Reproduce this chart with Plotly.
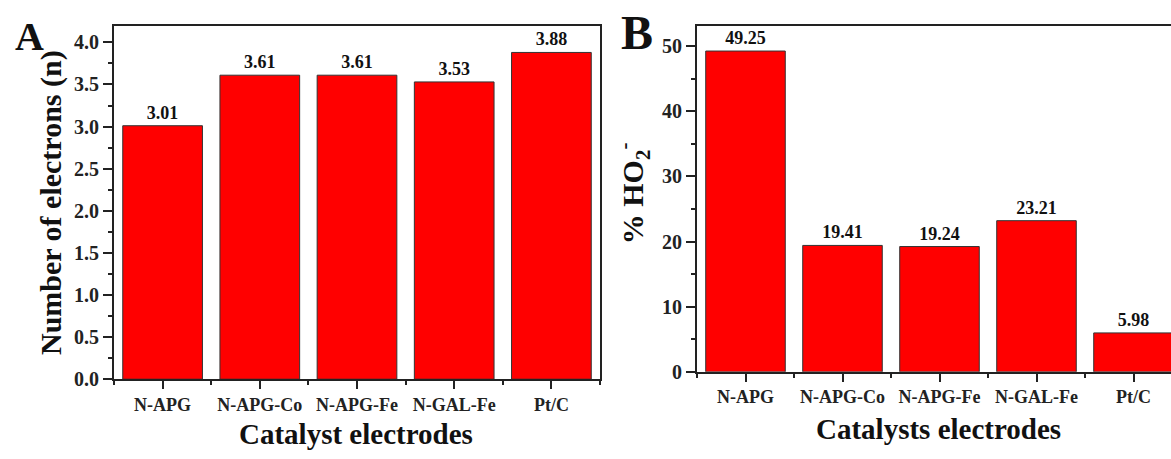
import plotly.graph_objects as go

categories = ["N-APG", "N-APG-Co", "N-APG-Fe", "N-GAL-Fe", "Pt/C"]
electrons = [3.01, 3.61, 3.61, 3.53, 3.88]
ho2_percent = [49.25, 19.41, 19.24, 23.21, 5.98]
yticks_a = [0.0, 0.5, 1.0, 1.5, 2.0, 2.5, 3.0, 3.5, 4.0]
yticks_b = [0, 10, 20, 30, 40, 50]

W, H = 1171, 459
FONT = "Liberation Serif, Times New Roman, serif"
xpos = list(range(len(categories)))

fig = go.Figure()
fig.add_trace(go.Bar(
    x=xpos, y=electrons, xaxis="x", yaxis="y",
    marker=dict(color="#ff0000", line=dict(color="#333333", width=1)),
    text=[f"{v:.2f}" for v in electrons], textposition="outside",
    textfont=dict(family=FONT, size=18, color="#111", weight="bold"),
    cliponaxis=False, showlegend=False,
))
fig.add_trace(go.Bar(
    x=xpos, y=ho2_percent, xaxis="x2", yaxis="y2",
    marker=dict(color="#ff0000", line=dict(color="#333333", width=1)),
    text=[f"{v:.2f}" for v in ho2_percent], textposition="outside",
    textfont=dict(family=FONT, size=18, color="#111", weight="bold"),
    cliponaxis=False, showlegend=False,
))

def px_x(p):
    return p / W

def px_y(p):
    return 1 - p / H

common_x = dict(
    tickmode="array", tickvals=xpos, ticktext=categories,
    ticks="outside", ticklen=8, tickwidth=2, tickcolor="#222",
    showline=True, linewidth=2, linecolor="#222", mirror=True,
    showgrid=False, zeroline=False,
    tickfont=dict(family=FONT, size=18, color="#222", weight="bold"),
    minor=dict(tick0=0.5, dtick=1, ticks="outside", ticklen=4, tickwidth=2, tickcolor="#222"),
)
common_y = dict(
    ticks="outside", ticklen=9, tickwidth=2, tickcolor="#222",
    showline=True, linewidth=2, linecolor="#222",
    showgrid=False, zeroline=False,
    tickfont=dict(family=FONT, size=20, color="#222", weight="bold"),
)

def ann(text, x, y, size, angle=0):
    return dict(text=text, x=px_x(x), y=px_y(y), xref="paper", yref="paper",
                xanchor="center", yanchor="middle", showarrow=False, textangle=angle,
                font=dict(family=FONT, size=size, color="#111", weight="bold"))

fig.update_layout(
    width=W, height=H,
    margin=dict(l=0, r=0, t=0, b=0),
    paper_bgcolor="white", plot_bgcolor="white",
    bargap=0.18,
    xaxis=dict(domain=[px_x(114), px_x(600)], range=[-0.5, 4.5], anchor="y", **common_x),
    yaxis=dict(domain=[px_y(388.5), px_y(27)], range=[0, 4.19], anchor="x",
               tickmode="array", tickvals=yticks_a, ticktext=[f"{v:.1f}" for v in yticks_a],
               mirror=True,
               minor=dict(dtick=0.25, ticks="outside", ticklen=4, tickwidth=2, tickcolor="#222"),
               **common_y),
    xaxis2=dict(domain=[px_x(697), 1.0], range=[-0.5, -0.5 + (W - 697) / 97.0], anchor="y2", **common_x),
    yaxis2=dict(domain=[px_y(381), px_y(27)], range=[0, 53.04], anchor="x2",
                tickmode="array", tickvals=yticks_b, mirror=False,
                minor=dict(dtick=5, ticks="outside", ticklen=4, tickwidth=2, tickcolor="#222"),
                **common_y),
    annotations=[
        ann("A", 29, 37, 40),
        ann("B", 637, 33, 48),
        ann("Number of electrons (n)", 51, 208, 30, -90),
        ann("% HO<sub>2</sub><sup>-</sup>", 633, 198, 30, -90),
        ann("Catalyst electrodes", 356, 445, 29),
        ann("Catalysts electrodes", 938, 440, 29),
    ],
)

fig.write_html("out.html")
